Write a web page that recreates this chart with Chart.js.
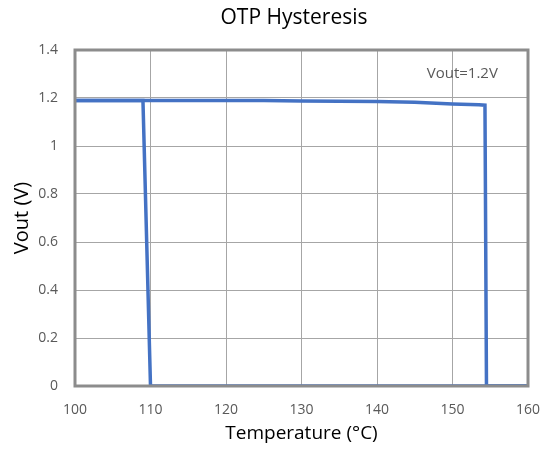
<!DOCTYPE html>
<html>
<head>
<meta charset="utf-8">
<script src="https://cdn.jsdelivr.net/npm/chart.js@4/dist/chart.umd.min.js"></script>
<style>
  html, body { margin: 0; padding: 0; background: #fff; }
  #wrap { width: 545px; height: 450px; }
</style>
</head>
<body>
<div id="wrap"><canvas id="chart"></canvas></div>
<script>
// heating curve: output on until OTP trips near 154.5 C
const heatTemp = [100, 110, 120, 125, 130, 140, 145, 150, 153.5, 154.3, 154.5, 160];
const heatVout = [1.19, 1.19, 1.19, 1.19, 1.187, 1.185, 1.182, 1.175, 1.172, 1.17, 0, 0];
// cooling curve: output back on at about 109 C
const coolTemp = [160, 110, 109, 100];
const coolVout = [0, 0, 1.19, 1.19];

const xTicks = [100, 110, 120, 130, 140, 150, 160];
const yTicks = [0, 0.2, 0.4, 0.6, 0.8, 1, 1.2, 1.4];
const titleText = 'OTP Hysteresis';
const noteText = 'Vout=1.2V';
const notePos = [151.3, 1.3];

const toPts = (xs, ys) => xs.map((x, i) => ({ x: x, y: ys[i] }));
const fontFam = '"Open Sans", "Noto Sans", sans-serif';
const blue = '#4472C4';
const frame = '#8c8c8c';

// frame round the plot area, the title and the text note
const framePlugin = {
  id: 'frame',
  afterDatasetsDraw(chart) {
    const { ctx, chartArea: a, scales } = chart;
    ctx.save();
    ctx.strokeStyle = frame;
    ctx.lineWidth = 3;
    ctx.strokeRect(a.left, a.top, a.right - a.left, a.bottom - a.top);
    ctx.textAlign = 'center';
    ctx.textBaseline = 'middle';
    ctx.fillStyle = '#595959';
    ctx.font = '15px ' + fontFam;
    ctx.fillText(noteText, scales.x.getPixelForValue(notePos[0]), scales.y.getPixelForValue(notePos[1]));
    ctx.fillStyle = '#000';
    ctx.font = '21px ' + fontFam;
    ctx.fillText(titleText, 294, 18);
    ctx.restore();
  }
};

new Chart(document.getElementById('chart').getContext('2d'), {
  type: 'scatter',
  data: {
    datasets: [
      { data: toPts(coolTemp, coolVout), showLine: true, borderColor: blue, borderWidth: 3.5, pointRadius: 0, tension: 0 },
      { data: toPts(heatTemp, heatVout), showLine: true, borderColor: blue, borderWidth: 3.5, pointRadius: 0, tension: 0 }
    ]
  },
  options: {
    responsive: true,
    maintainAspectRatio: false,
    animation: false,
    layout: { padding: { left: 8, right: 17, top: 50, bottom: 0 } },
    plugins: {
      legend: { display: false },
      tooltip: { enabled: false },
      title: { display: false }
    },
    scales: {
      x: {
        type: 'linear', min: 100, max: 160,
        afterBuildTicks: s => { s.ticks = xTicks.map(v => ({ value: v })); },
        afterFit: s => { s.height = 64; s.paddingLeft = 0; s.paddingRight = 0; },
        grid: { color: '#a6a6a6', lineWidth: 1, drawTicks: false },
        border: { display: false },
        ticks: { color: '#595959', font: { family: fontFam, size: 14 }, padding: 16 },
        title: { display: true, text: 'Temperature (°C)', color: '#000', font: { family: fontFam, size: 19 }, padding: { top: 0, bottom: 5 } }
      },
      y: {
        type: 'linear', min: 0, max: 1.4,
        afterBuildTicks: s => { s.ticks = yTicks.map(v => ({ value: v })); },
        afterFit: s => { s.width = 67; s.paddingTop = 0; s.paddingBottom = 0; },
        grid: { color: '#a6a6a6', lineWidth: 1, drawTicks: false },
        border: { display: false },
        ticks: { color: '#595959', font: { family: fontFam, size: 14 }, padding: 17, callback: v => String(v) },
        title: { display: true, text: 'Vout (V)', color: '#000', font: { family: fontFam, size: 20 }, padding: { top: 2, bottom: 0 } }
      }
    }
  },
  plugins: [framePlugin]
});
</script>
</body>
</html>
